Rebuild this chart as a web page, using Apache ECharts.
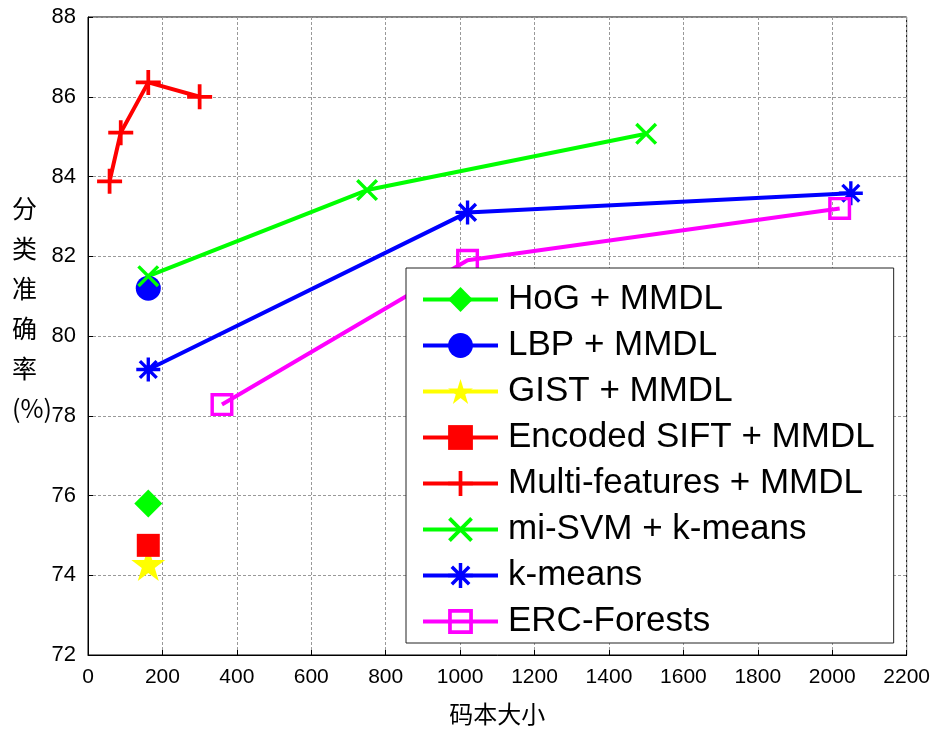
<!DOCTYPE html>
<html>
<head>
<meta charset="utf-8">
<script src="https://cdn.jsdelivr.net/npm/echarts@6/dist/echarts.min.js"></script>
<style>
html,body{margin:0;padding:0;background:#fff;}
#main{width:933px;height:731px;}
</style>
</head>
<body>
<div id="main"></div>
<script>
// 数据
var names = ['HoG + MMDL','LBP + MMDL','GIST + MMDL','Encoded SIFT + MMDL','Multi-features + MMDL','mi-SVM + k-means','k-means','ERC-Forests'];
var hogData = [[162, 75.8]];
var lbpData = [[162, 81.2]];
var gistData = [[162, 74.28]];
var siftData = [[162, 74.75]];
var multiData = [[58, 83.88], [88, 85.1], [162, 86.36], [300, 86.0]];
var misvmData = [[162, 81.5], [750, 83.66], [1500, 85.07]];
var kmeansData = [[162, 79.16], [1020, 83.1], [2050, 83.58]];
var ercData = [[360, 78.28], [1020, 81.9], [2020, 83.2]];
var xTicks = [0, 2200, 200];
var yTicks = [72, 88, 2];

var FONT = 'Liberation Sans';

// 自定义符号
var SYM = {
	plus: 'path://M-1,-0.15 L1,-0.15 L1,0.15 L-1,0.15 Z M-0.15,-1 L0.15,-1 L0.15,1 L-0.15,1 Z',
	cross: 'path://M-1,-0.78 L-0.78,-1 L1,0.78 L0.78,1 Z M0.78,-1 L1,-0.78 L-0.78,1 L-1,0.78 Z',
	aster: 'path://M-0.14,-1 L0.14,-1 L0.14,1 L-0.14,1 Z M-1,-0.14 L1,-0.14 L1,0.14 L-1,0.14 Z M-0.8,-0.6 L-0.6,-0.8 L0.8,0.6 L0.6,0.8 Z M0.6,-0.8 L0.8,-0.6 L-0.6,0.8 L-0.8,0.6 Z',
	star: 'path://M0,-1 L0.2245,-0.309 L0.951,-0.309 L0.3633,0.118 L0.5878,0.809 L0,0.382 L-0.5878,0.809 L-0.3633,0.118 L-0.951,-0.309 L-0.2245,-0.309 Z',
	hollow: 'path://M-1,-1 L1,-1 L1,1 L-1,1 Z M-0.7,-0.7 L-0.7,0.7 L0.7,0.7 L0.7,-0.7 Z'
};

function makeSeries(name,data,color,symbol,size){
	return {
		name:name,
		type:'line',
		data:data,
		symbol:symbol,
		symbolSize:size,
		showAllSymbol:true,
		itemStyle:{color:color},
		lineStyle:{color:color,width:4},
		z:2
	};
}

var myChart = echarts.init(document.getElementById('main'));
myChart.setOption({
	animation:false,
	backgroundColor:'#fff',
	grid:{
		left:88,
		right:26,
		top:17,
		bottom:74,
		show:true,
		borderColor:'#000',
		borderWidth:1
	},
	xAxis:{
		type:'value',
		min:xTicks[0],
		max:xTicks[1],
		interval:xTicks[2],
		name:'码本大小',
		nameLocation:'middle',
		nameGap:47,
		nameTextStyle:{fontFamily:'Noto Sans CJK SC',fontSize:24,color:'#000'},
		axisLine:{onZero:false,lineStyle:{color:'#000',width:1}},
		axisTick:{inside:true,length:5,lineStyle:{color:'#000'}},
		axisLabel:{fontFamily:FONT,fontSize:21,color:'#000',margin:12,formatter:function(v){return String(v);}},
		splitLine:{show:true,lineStyle:{color:'#999',width:1,type:[3,2]}}
	},
	yAxis:{
		type:'value',
		min:yTicks[0],
		max:yTicks[1],
		interval:yTicks[2],
		axisLine:{lineStyle:{color:'#000',width:1}},
		axisTick:{inside:true,length:5,lineStyle:{color:'#000'}},
		axisLabel:{fontFamily:FONT,fontSize:22,color:'#000',margin:12},
		splitLine:{show:true,lineStyle:{color:'#999',width:1,type:[3,2]}}
	},
	legend:{
		orient:'vertical',
		left:406,
		top:268,
		padding:[14,19,4,15],
		itemWidth:75,
		itemHeight:31,
		itemGap:11,
		backgroundColor:'#fff',
		borderColor:'#222',
		borderWidth:1,
		lineStyle:{width:4},
		textStyle:{fontFamily:FONT,fontSize:35,color:'#000',lineHeight:34,padding:[0,0,0,5]},
		data:names
	},
	graphic:[{
		type:'text',
		left:12,
		top:188,
		style:{
			text:'分\n类\n准\n确\n率\n(%)',
			font:'25px "Noto Sans CJK SC"',
			fill:'#000',
			lineHeight:40
		}
	}],
	series:[
		makeSeries(names[0],hogData,'#00ff00','diamond',28),
		makeSeries(names[1],lbpData,'#0000ff','circle',25),
		makeSeries(names[2],gistData,'#ffff00',SYM.star,34),
		makeSeries(names[3],siftData,'#ff0000','rect',23),
		makeSeries(names[4],multiData,'#ff0000',SYM.plus,25),
		makeSeries(names[5],misvmData,'#00ff00',SYM.cross,22),
		makeSeries(names[6],kmeansData,'#0000ff',SYM.aster,24),
		makeSeries(names[7],ercData,'#ff00ff',SYM.hollow,23)
	]
});
</script>
</body>
</html>
